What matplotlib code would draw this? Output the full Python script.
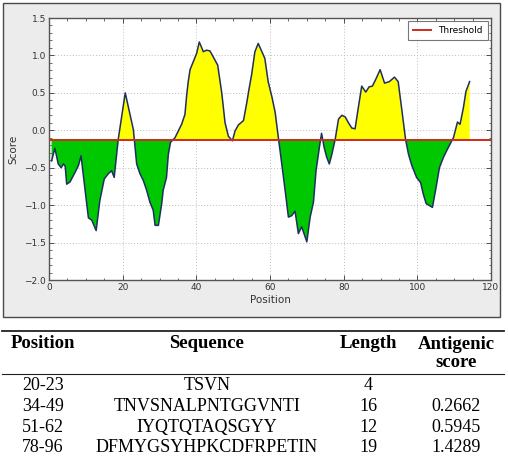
import numpy as np
import matplotlib
matplotlib.use("Agg")
import matplotlib.pyplot as plt
from matplotlib.patches import Rectangle
from matplotlib.lines import Line2D
from matplotlib.ticker import MultipleLocator

# ---- data ----
position = [0.7, 1.6, 2.5, 3.3, 3.9, 4.4, 4.8, 5.7, 7.1, 8.0, 8.7, 9.8, 10.7, 11.6, 12.8,
            13.8, 15.0, 16.1, 17.0, 17.7, 18.8, 20.7, 22.0, 22.9, 23.8, 24.7, 25.6, 26.5,
            27.4, 28.3, 28.8, 29.7, 30.6, 31.0, 31.9, 32.4, 33.0, 34.2, 35.1, 36.0, 36.9,
            37.4, 37.8, 38.3, 39.2, 40.1, 40.8, 41.9, 42.8, 43.7, 44.6, 45.8, 46.9, 47.8,
            48.7, 49.8, 50.5, 51.4, 52.8, 53.7, 54.3, 55.0, 55.9, 56.8, 57.8, 58.6, 59.5,
            60.5, 61.4, 62.3, 63.2, 64.1, 65.0, 65.9, 66.8, 67.7, 68.6, 70.0, 70.9, 71.8,
            72.5, 73.4, 74.0, 74.7, 75.4, 76.1, 76.8, 77.7, 78.6, 79.5, 80.4, 81.3, 82.2,
            83.1, 84.0, 84.9, 86.0, 86.9, 87.8, 88.8, 89.9, 91.1, 92.4, 93.8, 94.8, 95.8,
            96.8, 97.6, 98.5, 99.8, 100.9, 101.6, 102.4, 104.1, 105.1, 106.0, 107.1, 108.4,
            109.8, 110.9, 111.6, 112.5, 113.2, 114.2]
score = [-0.41, -0.24, -0.45, -0.50, -0.45, -0.48, -0.72, -0.69, -0.56, -0.47, -0.34, -0.80,
         -1.17, -1.20, -1.34, -0.94, -0.65, -0.58, -0.54, -0.63, -0.12, 0.50, 0.21, 0.01,
         -0.45, -0.58, -0.67, -0.80, -0.96, -1.07, -1.27, -1.27, -0.98, -0.80, -0.63, -0.32,
         -0.16, -0.10, -0.01, 0.08, 0.21, 0.48, 0.65, 0.81, 0.92, 1.03, 1.18, 1.05, 1.07,
         1.06, 0.98, 0.87, 0.50, 0.10, -0.08, -0.14, -0.01, 0.07, 0.13, 0.37, 0.55, 0.74,
         1.05, 1.16, 1.05, 0.96, 0.65, 0.45, 0.24, -0.11, -0.45, -0.80, -1.16, -1.14, -1.08,
         -1.38, -1.29, -1.49, -1.16, -0.96, -0.54, -0.23, -0.04, -0.23, -0.36, -0.45, -0.32,
         -0.12, 0.15, 0.20, 0.18, 0.10, 0.03, 0.02, 0.31, 0.59, 0.51, 0.58, 0.59, 0.69, 0.81,
         0.63, 0.65, 0.71, 0.65, 0.27, -0.12, -0.32, -0.47, -0.63, -0.70, -0.85, -0.98,
         -1.03, -0.76, -0.50, -0.36, -0.23, -0.10, 0.11, 0.08, 0.30, 0.52, 0.65]
threshold = -0.125

col_labels = ["Position", "Sequence", "Length", "Antigenic\nscore"]
tbl_position = ["20-23", "34-49", "51-62", "78-96"]
tbl_sequence = ["TSVN", "TNVSNALPNTGGVNTI", "IYQTQTAQSGYY", "DFMYGSYHPKCDFRPETIN"]
tbl_length = ["4", "16", "12", "19"]
tbl_score = ["", "0.2662", "0.5945", "1.4289"]

W, H = 508, 458
fig = plt.figure(figsize=(W / 100, H / 100), dpi=100)
fig.patch.set_facecolor("white")

def fx(px):
    return px / W

def fy(py):
    return 1 - py / H

# gray screenshot panel behind the plot
panel = Rectangle((fx(3), fy(317)), fx(497), 314 / H, transform=fig.transFigure,
                  facecolor="#ececec", edgecolor="#4a4a4a", lw=1.0, zorder=-5)
fig.add_artist(panel)

ax = fig.add_axes([fx(49), fy(280), fx(442), 262 / H])
ax.set_zorder(1)
ax.set_facecolor("white")
x = np.array(position)
y = np.array(score)
ax.fill_between(x, y, threshold, where=y >= threshold, interpolate=True,
                color="#ffff00", lw=0, zorder=2)
ax.fill_between(x, y, threshold, where=y <= threshold, interpolate=True,
                color="#00c800", lw=0, zorder=2)
ax.plot(x, y, color="#1f2f5f", lw=1.1, zorder=3)
ax.axhline(threshold, color="#d02a1e", lw=1.4, zorder=4)

ax.set_xlim(0, 120)
ax.set_ylim(-2.0, 1.5)
ax.set_xticks(range(0, 121, 20))
ax.set_yticks(np.arange(-2.0, 1.51, 0.5))
ax.set_yticklabels(["\u22122.0", "\u22121.5", "\u22121.0", "\u22120.5", "0.0", "0.5", "1.0", "1.5"])
ax.xaxis.set_minor_locator(MultipleLocator(5))
ax.yaxis.set_minor_locator(MultipleLocator(0.1))
ax.tick_params(which="both", direction="in", top=True, right=True, labelsize=6.5,
               colors="#333333", pad=2)
ax.tick_params(which="major", length=3.5, width=0.6)
ax.tick_params(which="minor", length=1.8, width=0.5)
ax.grid(True, color="#bdbdbd", ls=(0, (1, 2)), lw=0.7)
for s in ax.spines.values():
    s.set_color("#555555")
    s.set_linewidth(1.0)
ax.set_xlabel("Position", fontsize=7.5, color="#333333", labelpad=2)
ax.set_ylabel("Score", fontsize=7.5, color="#333333", labelpad=4)

leg = ax.legend(handles=[Line2D([], [], color="#d02a1e", lw=1.4)], labels=["Threshold"],
                loc="upper right", fontsize=6.5, frameon=True, fancybox=False,
                handlelength=2.0, borderpad=0.55, borderaxespad=0.35)
leg.get_frame().set_edgecolor("#555555")
leg.get_frame().set_linewidth(0.8)

# ---- table below ----
serif = ["Liberation Serif", "DejaVu Serif"]
fig.add_artist(Line2D([fx(2), fx(504)], [fy(331), fy(331)], transform=fig.transFigure,
                      color="#222222", lw=1.3))
fig.add_artist(Line2D([fx(2), fx(504)], [fy(373.5), fy(373.5)], transform=fig.transFigure,
                      color="#222222", lw=0.8))
col_x = [43, 207, 368, 456]
fig.text(fx(col_x[0]), fy(344), col_labels[0], ha="center", va="center",
         fontsize=13.5, fontweight="bold", family=serif)
fig.text(fx(col_x[1]), fy(344), col_labels[1], ha="center", va="center",
         fontsize=13.5, fontweight="bold", family=serif)
fig.text(fx(col_x[2]), fy(344), col_labels[2], ha="center", va="center",
         fontsize=13.5, fontweight="bold", family=serif)
fig.text(fx(col_x[3]), fy(353.5), col_labels[3], ha="center", va="center",
         fontsize=13.5, fontweight="bold", family=serif, linespacing=1.05)

row_y = [385.5, 406.5, 427.5, 448]
for i in range(len(tbl_position)):
    for cx, val in zip(col_x, [tbl_position[i], tbl_sequence[i], tbl_length[i], tbl_score[i]]):
        fig.text(fx(cx), fy(row_y[i]), val, ha="center", va="center",
                 fontsize=13, family=serif)

fig.savefig("out.png", dpi=100)
